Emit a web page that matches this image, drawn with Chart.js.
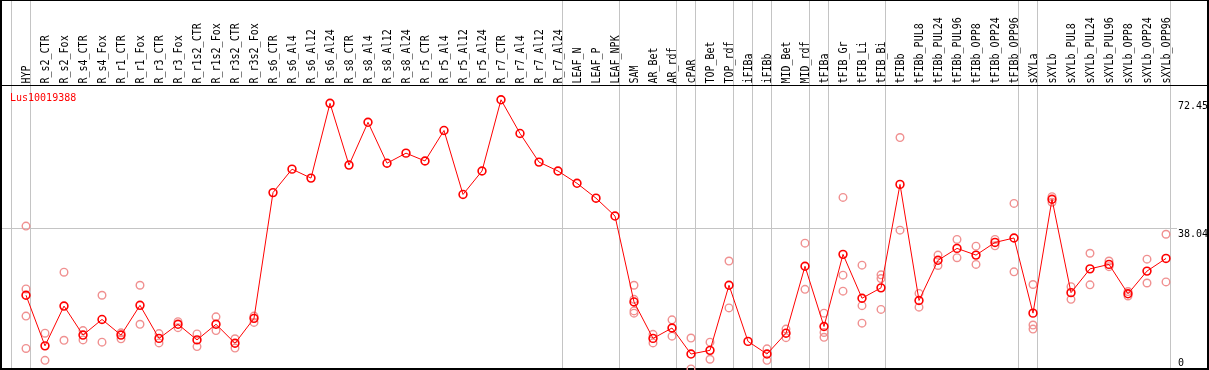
<!DOCTYPE html>
<html>
<head>
<meta charset="utf-8">
<script src="https://cdn.jsdelivr.net/npm/chart.js@4.4.1/dist/chart.umd.min.js"></script>
<style>
html,body{margin:0;padding:0;background:#fff;overflow:hidden;}
#wrap{position:relative;width:1209px;height:370px;}
</style>
</head>
<body>
<div id="wrap"><canvas id="c" width="1209" height="370"></canvas></div>
<script>
const geneLabel = "Lus10019388";
const categories = ["HYP","R_s2_CTR","R_s2_Fox","R_s4_CTR","R_s4_Fox","R_r1_CTR","R_r1_Fox","R_r3_CTR","R_r3_Fox","R_r1s2_CTR","R_r1s2_Fox","R_r3s2_CTR","R_r3s2_Fox","R_s6_CTR","R_s6_Al4","R_s6_Al12","R_s6_Al24","R_s8_CTR","R_s8_Al4","R_s8_Al12","R_s8_Al24","R_r5_CTR","R_r5_Al4","R_r5_Al12","R_r5_Al24","R_r7_CTR","R_r7_Al4","R_r7_Al12","R_r7_Al24","LEAF_N","LEAF_P","LEAF_NPK","SAM","AR_Bet","AR_rdf","cPAR","TOP_Bet","TOP_rdf","iFIBa","iFIBb","MID_Bet","MID_rdf","tFIBa","tFIB_Gr","tFIB_Li","tFIB_Bi","tFIBb","tFIBb_PUL8","tFIBb_PUL24","tFIBb_PUL96","tFIBb_OPP8","tFIBb_OPP24","tFIBb_OPP96","sXYLa","sXYLb","sXYLb_PUL8","sXYLb_PUL24","sXYLb_PUL96","sXYLb_OPP8","sXYLb_OPP24","sXYLb_OPP96"];
const means = [19.9,6.3,17.0,9.2,13.4,9.2,17.2,8.3,12.1,7.9,12.1,7.0,13.7,47.5,53.8,51.4,71.5,54.9,66.4,55.4,58.1,56.0,64.2,47.0,53.3,72.45,63.4,55.7,53.3,50.0,46.0,41.2,18.1,8.3,11.1,4.1,5.1,22.6,7.5,4.1,9.7,27.7,11.5,30.9,19.1,21.9,49.7,18.5,29.3,32.5,30.7,34.1,35.3,15.1,45.7,20.6,27.0,28.2,20.3,26.4,29.8];
const replicates = [
 [38.5,21.6,14.3,5.6],[9.7,2.4],[26.1,7.8],[10.4,7.9],[19.9,7.3],[9.8,8.2],[22.6,12.1],[9.6,7.1],[12.8,11.2],[9.5,6.1],[14.1,10.4],[8.2,5.7],[14.3,12.6],
 [],[],[],[],[],[],[],[],[],[],[],[],[],[],[],[],[],[],[],
 [22.6,18.8,15.7,15.1],[9.4,7.1],[13.3,8.9],[8.4,0.1],[7.3,2.7],[29.1,16.5],[],[5.5,2.4],[10.8,8.5],[33.9,21.5],[15.1,9.9,8.6],[46.2,25.3,21.0],[28.0,17.1,12.4],[25.4,24.4,16.1],
 [62.3,37.4],[20.4,16.7],[30.7,27.9],[34.9,30.0],[33.1,28.2],[34.9,33.2],[44.6,26.2],[22.8,11.9,10.8],[46.4,44.9],[22.2,18.8],[31.2,22.7],[29.1,27.6],[20.9,19.7],[29.6,23.2],[36.3,23.5]
];
const groupSizes = [1,28,3,3,1,2,1,1,2,1,3,7,1,7];
const yTicks = [72.45, 38.04, 0];
const yGrid = [38.04];

const meanPts = means.map((v,i)=>({x:i,y:v}));
const repPts = [];
replicates.forEach((arr,i)=>arr.forEach(v=>repPts.push({x:i,y:v})));

const boundaries = [-1];
let acc = -1;
groupSizes.forEach(s=>{acc+=s;boundaries.push(acc);});

const FONT = '10px "DejaVu Sans Mono", monospace';

const decor = {
  id:'decor',
  beforeDatasetsDraw(chart){
    const ctx = chart.ctx, xs = chart.scales.x, ys = chart.scales.y;
    ctx.save();
    ctx.fillStyle = '#c4c4c4';
    boundaries.forEach(b=>{
      const px = Math.round(xs.getPixelForValue(b)) + 4;
      ctx.fillRect(px, 0, 1, 369);
    });
    yGrid.forEach(v=>{
      const py = Math.round(ys.getPixelForValue(v));
      ctx.fillRect(1, py, 1176, 1);
    });
    ctx.fillStyle = '#000';
    ctx.fillRect(0,0,1209,1);
    ctx.fillRect(0,85,1209,1);
    ctx.fillRect(0,0,2,370);
    ctx.fillRect(1207,0,2,370);
    ctx.fillRect(0,368,1209,2);
    ctx.font = FONT;
    ctx.fillStyle = '#000';
    ctx.textAlign = 'left';
    ctx.textBaseline = 'alphabetic';
    categories.forEach((c,i)=>{
      const px = xs.getPixelForValue(i);
      ctx.save();
      ctx.translate(px + 3.5, 83.5);
      ctx.rotate(-Math.PI/2);
      ctx.scale(1, 1.2);
      ctx.fillText(c, 0, 0);
      ctx.restore();
    });
    yTicks.forEach(v=>{
      const py = Math.min(366, ys.getPixelForValue(v) + 9);
      ctx.fillText(String(v), 1178, py);
    });
    ctx.fillStyle = '#ff0000';
    ctx.fillText(geneLabel, 10, 101);
    ctx.restore();
  }
};

new Chart(document.getElementById('c'), {
  type:'line',
  data:{
    datasets:[
      {label:'mean', data:meanPts, borderColor:'#ff0000', borderWidth:1, pointRadius:3.9,
       pointBorderWidth:1.6, pointBorderColor:'#ff0000', pointBackgroundColor:'rgba(0,0,0,0)', tension:0, clip:false},
      {label:'replicates', type:'scatter', data:repPts, showLine:false, pointRadius:3.8,
       pointBorderWidth:1.4, pointBorderColor:'#f09090', pointBackgroundColor:'rgba(0,0,0,0)', clip:false}
    ]
  },
  plugins:[decor],
  options:{
    responsive:false, animation:false, devicePixelRatio:1,
    layout:{autoPadding:false, padding:{left:1,right:1,top:0,bottom:1}},
    plugins:{legend:{display:false}, tooltip:{enabled:false}},
    scales:{
      x:{type:'linear', display:false, min:-25/19, max:-25/19+1207/19},
      y:{type:'linear', display:false, min:0.08, max:0.08+369/3.72}
    }
  }
});
</script>
</body>
</html>
